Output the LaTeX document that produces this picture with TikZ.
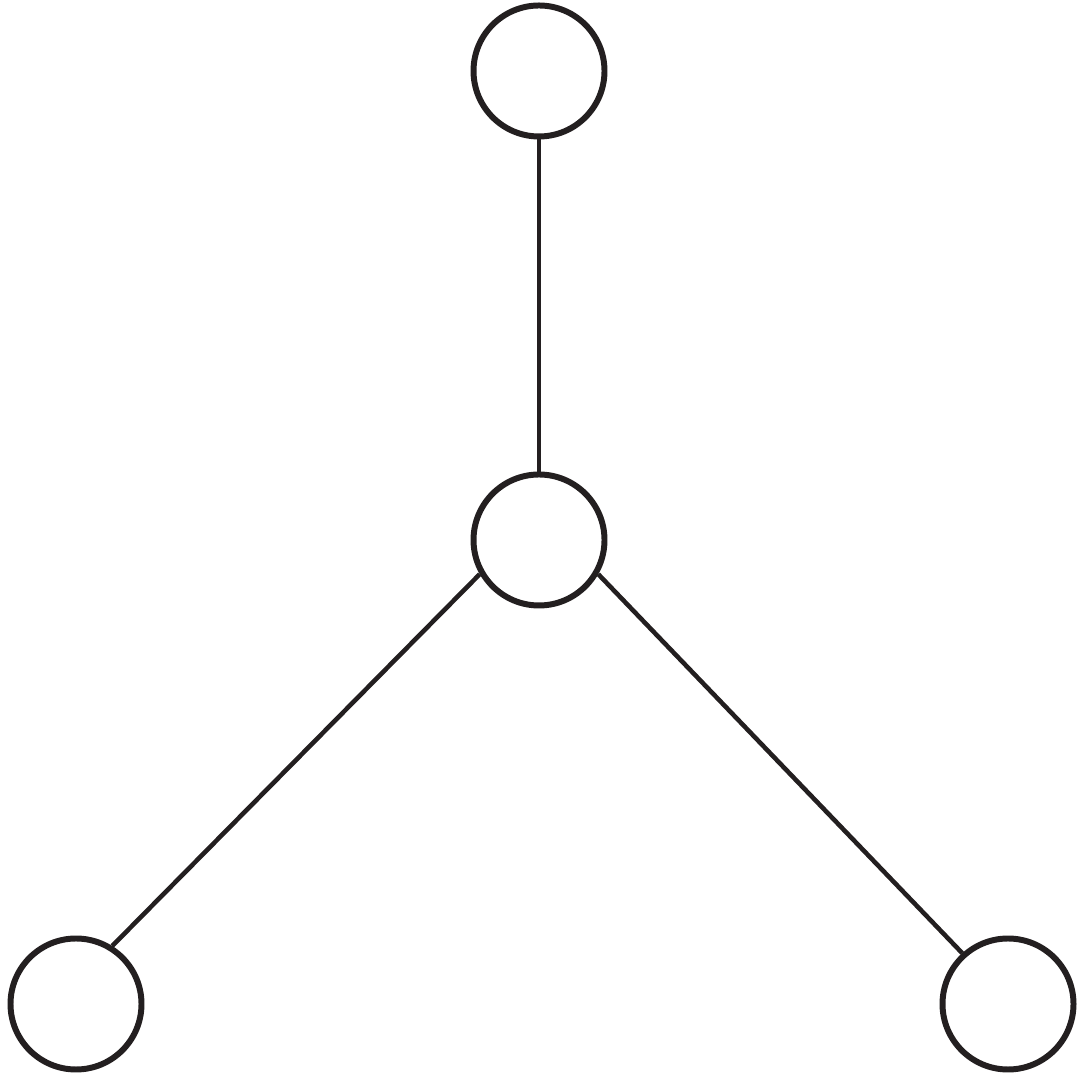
\documentclass[tikz,border=0pt]{standalone}
\usepackage{tikz}
\definecolor{ink}{HTML}{231F20}
\tikzset{vert/.style={draw=ink, circle, line width=1.7pt, minimum size=1.31cm, inner sep=0pt}}
\begin{document}
\begin{tikzpicture}
            \useasboundingbox (0, 0) rectangle (10.8, 10.8);
            \node[vert] (top) at (5.39, 10.09) {};
            \node[vert] (mid) at (5.39, 5.40) {};
            \node[vert] (left) at (0.76, 0.76) {};
            \node[vert] (right) at (10.08, 0.76) {};

            \draw[ink, line width=1.3pt] (top.south) -- (mid.north);
            \draw[ink, line width=1.3pt] (mid.210) -- (left.58);
            \draw[ink, line width=1.3pt] (mid.330) -- (right.132);
          \end{tikzpicture}
\end{document}
